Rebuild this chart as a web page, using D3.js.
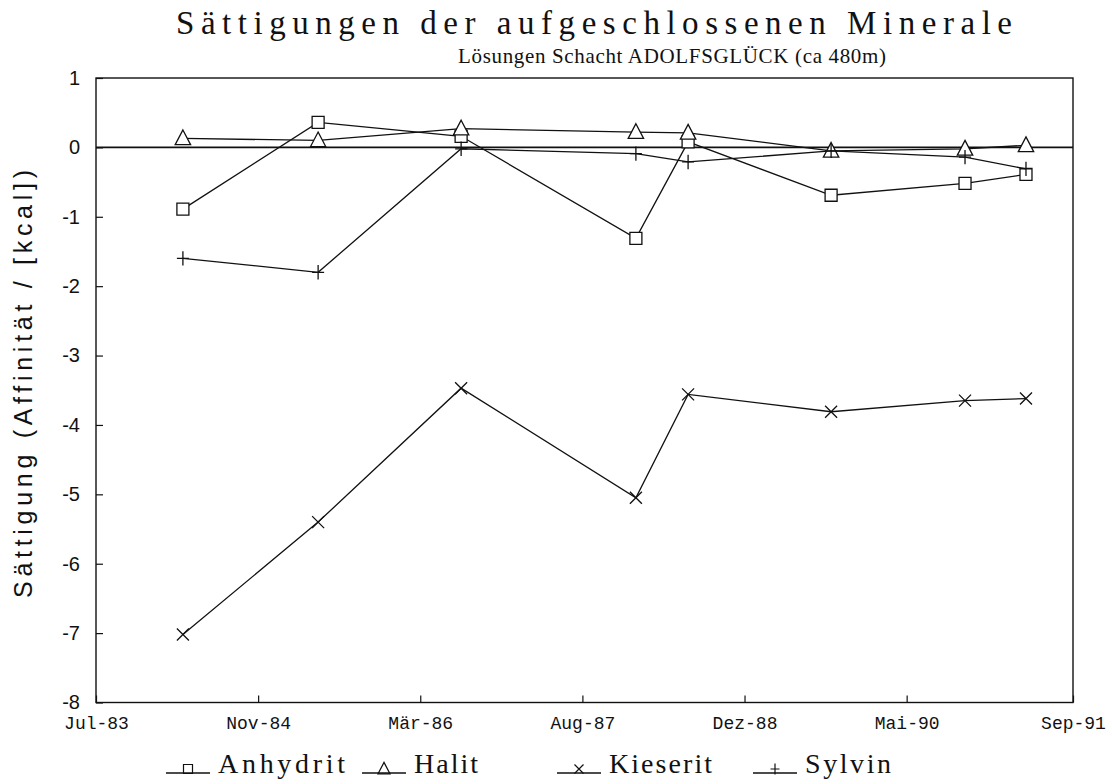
<!DOCTYPE html>
<html>
<head>
<meta charset="utf-8">
<script src="https://cdn.jsdelivr.net/npm/d3@7/dist/d3.min.js"></script>
<style>
  html, body { margin: 0; padding: 0; background: #fff; }
  svg { display: block; }
</style>
</head>
<body>
<svg id="chart" width="1112" height="784"></svg>
<script>
// Sampling dates of the brine samples
const sampleDates = ["1984-03-25", "1985-05-16", "1986-07-31", "1988-01-21",
                     "1988-06-30", "1989-09-14", "1990-11-01", "1991-05-08"];

// Saturation (affinity in kcal) per mineral
const anhydrit = [-0.89, 0.36, 0.16, -1.31, 0.08, -0.69, -0.52, -0.39];
const halit    = [0.13, 0.10, 0.27, 0.22, 0.21, -0.05, -0.02, 0.03];
const kieserit = [-7.02, -5.40, -3.47, -5.05, -3.56, -3.81, -3.65, -3.62];
const sylvin   = [-1.60, -1.80, -0.02, -0.09, -0.21, -0.05, -0.14, -0.31];

const seriesNames = ["Anhydrit", "Halit", "Kieserit", "Sylvin"];

// Date axis: ticks every 500 days, last label at the axis end
const xTickDates  = ["1983-07-01", "1984-11-12", "1986-03-27", "1987-08-09",
                     "1988-12-21", "1990-05-05", "1991-09-30"];
const xTickLabels = ["Jul-83", "Nov-84", "Mär-86", "Aug-87", "Dez-88", "Mai-90", "Sep-91"];
const yTicks = [1, 0, -1, -2, -3, -4, -5, -6, -7, -8];

const parse = d3.utcParse("%Y-%m-%d");
const svg = d3.select("#chart");

const plotL = 96, plotR = 1073, plotT = 78, plotB = 702.5;

const x = d3.scaleUtc()
  .domain([parse(xTickDates[0]), parse(xTickDates[xTickDates.length - 1])])
  .range([plotL, plotR]);
const y = d3.scaleLinear().domain([-8, 1]).range([plotB, plotT]);

const ink = "#111";

// Marker shapes, drawn around (0,0)
const markerPath = {
  Anhydrit: s => `M${-s/2},${-s/2}H${s/2}V${s/2}H${-s/2}Z`,
  Halit: s => `M0,${-s*0.6}L${s*0.55},${s*0.45}H${-s*0.55}Z`,
  Kieserit: s => `M${-s/2},${-s/2}L${s/2},${s/2}M${s/2},${-s/2}L${-s/2},${s/2}`,
  Sylvin: s => `M${-s/2},0H${s/2}M0,${-s*0.6}V${s*0.6}`
};

// Frame
svg.append("rect")
  .attr("x", plotL).attr("y", plotT)
  .attr("width", plotR - plotL).attr("height", plotB - plotT)
  .attr("fill", "none").attr("stroke", ink).attr("stroke-width", 1.4);

// Y axis with inward ticks
const yAxis = d3.axisLeft(y).tickValues(yTicks).tickSize(-7).tickPadding(16)
  .tickFormat(d => String(d));
const gy = svg.append("g").attr("transform", `translate(${plotL},0)`).call(yAxis);
gy.select(".domain").remove();
gy.selectAll(".tick line").attr("stroke", ink).attr("stroke-width", 1.2);
gy.selectAll(".tick text")
  .attr("fill", ink)
  .style("font-family", "'Liberation Sans', Arial, sans-serif")
  .style("font-size", "20px");

// X axis with inward ticks
const xAxis = d3.axisBottom(x)
  .tickValues(xTickDates.map(parse))
  .tickSize(-7).tickPadding(21)
  .tickFormat((d, i) => xTickLabels[i]);
const gx = svg.append("g").attr("transform", `translate(0,${plotB})`).call(xAxis);
gx.select(".domain").remove();
gx.selectAll(".tick line").attr("stroke", ink).attr("stroke-width", 1.2);
gx.selectAll(".tick text")
  .attr("fill", ink)
  .style("font-family", "'Liberation Mono', 'DejaVu Sans Mono', monospace")
  .style("font-size", "18px")
  .attr("dy", "0.3em");

// Zero line
svg.append("line")
  .attr("x1", plotL).attr("x2", plotR)
  .attr("y1", y(0)).attr("y2", y(0))
  .attr("stroke", ink).attr("stroke-width", 1.6);

// Series
const series = [
  { name: "Anhydrit", values: anhydrit },
  { name: "Halit", values: halit },
  { name: "Kieserit", values: kieserit },
  { name: "Sylvin", values: sylvin }
];

const line = d3.line()
  .x((d, i) => x(parse(sampleDates[i])))
  .y(d => y(d));

const gs = svg.append("g").selectAll("g").data(series).join("g");
gs.append("path")
  .attr("d", d => line(d.values))
  .attr("fill", "none").attr("stroke", ink).attr("stroke-width", 1.3);

gs.each(function (s) {
  d3.select(this).selectAll("path.m").data(s.values).join("path")
    .attr("class", "m")
    .attr("transform", (d, i) => `translate(${x(parse(sampleDates[i]))},${y(d)})`)
    .attr("d", markerPath[s.name](s.name === "Halit" ? 14 : 12))
    .attr("fill", s.name === "Anhydrit" || s.name === "Halit" ? "#fff" : "none")
    .attr("stroke", ink).attr("stroke-width", 1.3);
});

// Titles
svg.append("text")
  .attr("x", 176).attr("y", 34)
  .attr("textLength", 836).attr("lengthAdjust", "spacing")
  .style("font-family", "'Liberation Serif', 'DejaVu Serif', serif")
  .style("font-size", "33px").attr("fill", ink)
  .text("Sättigungen der aufgeschlossenen Minerale");

svg.append("text")
  .attr("x", 458).attr("y", 63)
  .attr("textLength", 428).attr("lengthAdjust", "spacing")
  .style("font-family", "'Liberation Serif', 'DejaVu Serif', serif")
  .style("font-size", "21px").attr("fill", ink)
  .text("Lösungen Schacht ADOLFSGLÜCK (ca 480m)");

// Y axis title
svg.append("text")
  .attr("transform", "translate(32,598) rotate(-90)")
  .attr("textLength", 428).attr("lengthAdjust", "spacing")
  .style("font-family", "'Liberation Sans', Arial, sans-serif")
  .style("font-size", "25px").attr("fill", ink)
  .text("Sättigung (Affinität / [kcal])");

// Legend
const legendX = [166, 362, 557, 753];
const legendTextLen = [127, 64, 103, 86];
const ly = 773;
const lg = svg.append("g").selectAll("g").data(seriesNames).join("g")
  .attr("transform", (d, i) => `translate(${legendX[i]},${ly})`);
lg.append("line")
  .attr("x1", 0).attr("x2", 44).attr("y1", 0).attr("y2", 0)
  .attr("stroke", ink).attr("stroke-width", 1.3);
lg.append("path")
  .attr("transform", "translate(22,-4)")
  .attr("d", d => markerPath[d](d === "Halit" ? 11 : 9))
  .attr("fill", "none").attr("stroke", ink).attr("stroke-width", 1.2);
lg.append("text")
  .attr("x", 52).attr("y", 0)
  .attr("textLength", (d, i) => legendTextLen[i]).attr("lengthAdjust", "spacing")
  .style("font-family", "'Liberation Serif', 'DejaVu Serif', serif")
  .style("font-size", "28px").attr("fill", ink)
  .text(d => d);
</script>
</body>
</html>
